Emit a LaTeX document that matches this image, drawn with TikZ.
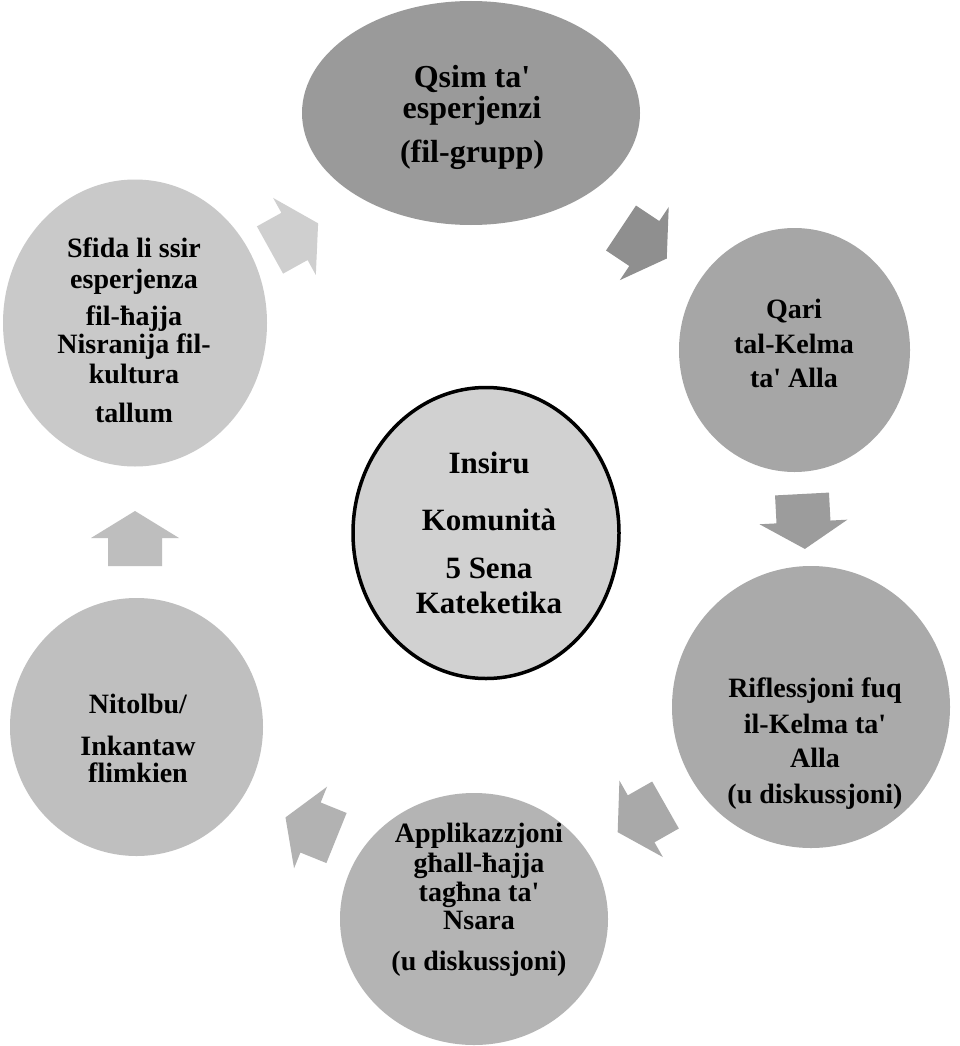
\documentclass[tikz,border=0pt]{standalone}
\usepackage{fontspec}
\newfontfamily\lib{Liberation Serif}
\usetikzlibrary{shapes.geometric}
\definecolor{cQsim}{HTML}{9A9A9A}
\definecolor{cQari}{HTML}{A6A6A6}
\definecolor{cRif}{HTML}{AAAAAA}
\definecolor{cApp}{HTML}{B4B4B4}
\definecolor{cNit}{HTML}{BFBFBF}
\definecolor{cSfi}{HTML}{C9C9C9}
\definecolor{cCen}{HTML}{D1D1D1}
\definecolor{aOne}{HTML}{CFCFCF}
\definecolor{aTwo}{HTML}{8F8F8F}
\definecolor{aThree}{HTML}{9C9C9C}
\definecolor{aFour}{HTML}{A9A9A9}
\definecolor{aFive}{HTML}{B2B2B2}
\definecolor{aSix}{HTML}{BEBEBE}
\tikzset{
  stage/.style={ellipse, inner sep=0pt, draw=none},
  txt/.style={anchor=base, inner sep=0pt, text=black, font=\lib\bfseries\fontsize{28}{30}\selectfont},
  txtbig/.style={txt, font=\lib\bfseries\fontsize{32}{34}\selectfont},
  txtmid/.style={txt, font=\lib\bfseries\fontsize{31}{33}\selectfont},
}
\newcommand{\blockarr}[4]{%
  \begin{scope}[shift={(#1,#2)}, rotate=#3]
    \fill[#4] (0,-27) -- (28,-27) -- (28,-44) -- (55,0) -- (28,44) -- (28,27) -- (0,27) -- cycle;
  \end{scope}}
\newcommand{\stagetext}[4]{%
  \foreach \yy/\tx [count=\i] in {#4} {\node[#2] (#1-\i) at (#3,\yy) {\tx};}}
\begin{document}
\begin{tikzpicture}[x=1pt, y=-1pt]
\useasboundingbox (0,0) rectangle (960,1046);
\fill[white] (0,0) rectangle (960,1046);

% stages
\node[stage, fill=cQsim, minimum width=338pt, minimum height=224pt] (qsim) at (471,113) {};
\node[stage, fill=cQari, minimum width=231pt, minimum height=244pt] (qari) at (794.5,350) {};
\node[stage, fill=cRif, minimum width=278pt, minimum height=282pt] (rif) at (811,707) {};
\node[stage, fill=cApp, minimum width=268pt, minimum height=252pt] (app) at (474,919) {};
\node[stage, fill=cNit, minimum width=253pt, minimum height=258pt] (nit) at (136.5,727) {};
\node[stage, fill=cSfi, minimum width=264pt, minimum height=287pt] (sfi) at (135,323) {};
\node[stage, fill=cCen, draw=black, line width=3.5pt, minimum width=266pt, minimum height=291pt] (cen) at (486,533) {};

% block arrows
\blockarr{270}{250}{29}{aOne}
\blockarr{621}{228}{-33.7}{aTwo}
\blockarr{802}{494}{-87}{aThree}
\blockarr{665.5}{805}{209.6}{aFour}
\blockarr{336.5}{838}{158}{aFive}
\blockarr{135}{566}{90}{aSix}

% texts
\stagetext{tq}{txtbig}{472}{88/{Qsim ta'},119/esperjenzi,162/(fil-grupp)}
\stagetext{tqa}{txt}{794}{318/Qari,353/tal-Kelma,387/{ta' Alla}}
\stagetext{tr}{txt}{815}{697/{Riflessjoni fuq},733/{il-Kelma ta'},767/Alla,803/(u diskussjoni)}
\stagetext{ta}{txt}{479}{842/Applikazzjoni,872/għall-ħajja,901/{tagħna ta'},929/Nsara,970/(u diskussjoni)}
\stagetext{tn}{txt}{138}{713/{Nitolbu/},755/Inkantaw,782/flimkien}
\stagetext{ts}{txt}{134}{257/{Sfida li ssir},288/esperjenza,325/fil-ħajja,353/{Nisranija fil-},383/kultura,422/tallum}
\stagetext{tc}{txtmid}{489}{473/Insiru,530/Komunità,578/{5 Sena},613/Kateketika}
\end{tikzpicture}
\end{document}
